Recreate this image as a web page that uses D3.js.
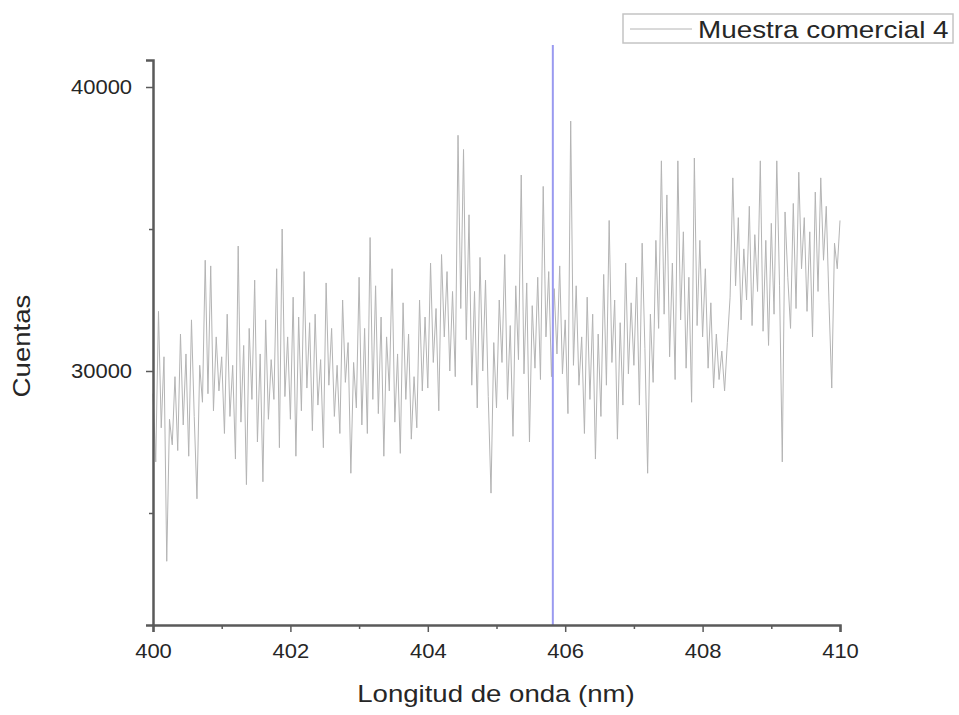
<!DOCTYPE html>
<html>
<head>
<meta charset="utf-8">
<script src="https://cdn.jsdelivr.net/npm/d3@7"></script>
<style>
  body { margin: 0; background: #fff; }
  text { font-family: "Liberation Sans", Arial, sans-serif; fill: #262626; }
</style>
</head>
<body>
<div id="chart"></div>
<script>
// wavelength grid start / step (nm)
var startNm = 400
var stepNm = 0.04

// counts, one row per nm
var counts = [
  29200, 26800, 32100, 28000, 30500, 23300, 28300, 27400, 29800, 27200, 31300, 28100, 30600, 27000, 31800, 28400, 25500, 30200, 28900, 33900, 29200, 33700, 28600, 31200, 29300,
  30500, 27800, 32000, 28400, 30200, 26900, 34400, 28200, 30900, 26000, 31500, 29000, 33200, 27500, 30600, 26100, 31800, 28300, 30400, 29000, 33600, 27300, 35000, 29100, 31200,
  28300, 32600, 27000, 31900, 28600, 33500, 29400, 31700, 27900, 32000, 28800, 30400, 27300, 33100, 29500, 31500, 28400, 30200, 27800, 32500, 29600, 31000, 26400, 30300, 28700,
  33300, 28100, 31500, 27800, 34700, 29000, 33000, 28500, 31900, 27000, 31200, 29300, 33600, 28200, 30600, 27100, 32400, 29000, 31300, 27600, 29800, 28000, 32500, 29300, 31900,
  29400, 33800, 30300, 32200, 28600, 34100, 31200, 33500, 30000, 32800, 29800, 38300, 32200, 37800, 31100, 35500, 29500, 32800, 28700, 34000, 30000, 33200, 29100, 25700, 31000,
  28700, 32500, 30300, 34100, 29000, 31600, 27700, 33000, 30400, 36900, 29900, 33100, 27500, 32300, 30100, 33300, 29700, 36500, 31200, 33500, 29800, 32900, 30600, 33700, 29900,
  31800, 28500, 38800, 30200, 33000, 29500, 31200, 27800, 32600, 29000, 32000, 26900, 31300, 28400, 33400, 29500, 35300, 30300, 32500, 27600, 31700, 28800, 33800, 29900, 32400,
  30200, 33300, 28800, 34500, 30800, 26400, 32000, 29600, 34600, 31500, 37400, 32000, 36200, 30500, 33800, 29700, 37400, 31800, 34900, 30100, 33300, 28900, 37500, 31600, 34600,
  31200, 33600, 30100, 32400, 29400, 31300, 29700, 30700, 29300, 31000, 32600, 36800, 33000, 35400, 31800, 34300, 32500, 35800, 31600, 34800, 32800, 37400, 31400, 34600, 30900,
  35200, 32000, 37400, 33000, 26800, 35600, 33300, 31500, 35900, 32200, 37000, 33600, 35400, 32100, 34900, 31200, 36300, 32800, 36800, 33900, 35800, 32400, 29400, 34500, 33600,
  35300
]

var majorTicksX = [400, 402, 404, 406, 408, 410]
var minorTicksX = [401, 403, 405, 407, 409]
var majorTicksY = [30000, 40000]
var minorTicksY = [25000, 35000]
var markerNm = 405.82
var seriesName = "Muestra comercial 4"

var data = counts.map(function(c, i) { return { nm: startNm + i * stepNm, c: c } })

var width = 959, height = 715

var svg = d3.select("#chart").append("svg")
  .attr("width", width)
  .attr("height", height)

var x = d3.scaleLinear().domain([400, 410]).range([153, 840])
var y = d3.scaleLinear().domain([21056, 40951]).range([625, 60])

// spectrum
var line = d3.line()
  .x(function(d) { return x(d.nm) })
  .y(function(d) { return y(d.c) })

svg.append("path")
  .datum(data)
  .attr("fill", "none")
  .attr("stroke", "#b4b4b4")
  .attr("stroke-width", 1)
  .attr("d", line)

// blue marker line
svg.append("line")
  .attr("x1", x(markerNm)).attr("x2", x(markerNm))
  .attr("y1", 45).attr("y2", y.range()[0])
  .attr("stroke", "#9a9af0")
  .attr("stroke-width", 2)

// axes
var xAxis = svg.append("g")
  .attr("transform", "translate(0,625)")
  .call(d3.axisBottom(x).tickValues(majorTicksX).tickFormat(d3.format("d")).tickSize(7).tickPadding(12))
xAxis.append("g")
  .call(d3.axisBottom(x).tickValues(minorTicksX).tickFormat("").tickSize(4))

var yAxis = svg.append("g")
  .attr("transform", "translate(153,0)")
  .call(d3.axisLeft(y).tickValues(majorTicksY).tickFormat(d3.format("d")).tickSize(7).tickPadding(12))
yAxis.append("g")
  .call(d3.axisLeft(y).tickValues(minorTicksY).tickFormat("").tickSize(4))

svg.selectAll(".domain").attr("stroke", "#5a5a5a").attr("stroke-width", 2.5)
svg.selectAll(".tick line").attr("stroke", "#5a5a5a").attr("stroke-width", 1.5)
// the picture's text is a bit wider than the font, so stretch it sideways
svg.selectAll(".tick text")
  .style("font-size", "20px")
  .attr("transform", "scale(1.1,1)")
  .attr("fill", "#262626")
xAxis.selectAll("g > g .domain").remove()
yAxis.selectAll("g > g .domain").remove()

// axis titles
svg.append("text")
  .attr("transform", "translate(496,702) scale(1.2,1)")
  .attr("text-anchor", "middle")
  .style("font-size", "23px")
  .text("Longitud de onda (nm)")

svg.append("text")
  .attr("transform", "translate(30,346) rotate(-90) scale(1.2,1.05)")
  .attr("text-anchor", "middle")
  .style("font-size", "23px")
  .text("Cuentas")

// legend
var legend = svg.append("g")
legend.append("rect")
  .attr("x", 623).attr("y", 14).attr("width", 330).attr("height", 29)
  .attr("fill", "#fff").attr("stroke", "#c4c4c4").attr("stroke-width", 1.5)
legend.append("line")
  .attr("x1", 630).attr("x2", 692).attr("y1", 29).attr("y2", 29)
  .attr("stroke", "#b4b4b4").attr("stroke-width", 1)
legend.append("text")
  .attr("transform", "translate(698,38) scale(1.16,1)")
  .style("font-size", "24px")
  .text(seriesName)
</script>
</body>
</html>
